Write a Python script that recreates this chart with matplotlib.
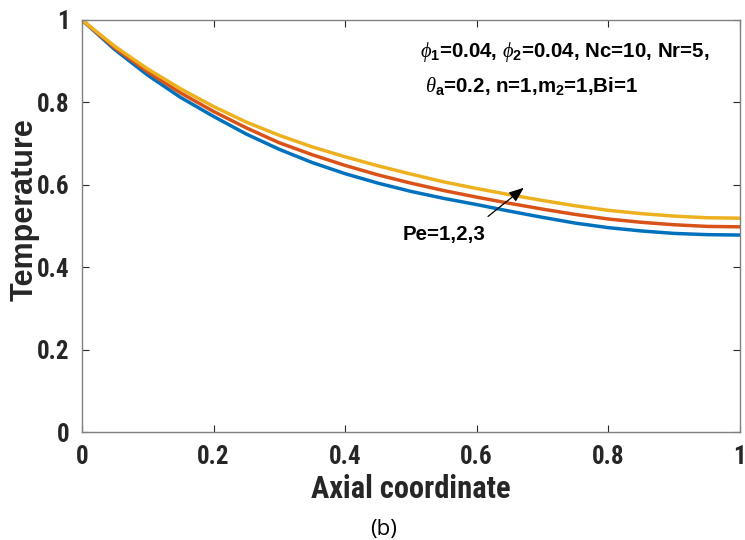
import numpy as np
import matplotlib
matplotlib.use("Agg")
import matplotlib.pyplot as plt
from matplotlib import font_manager

# ---------------------------------------------------------------- data
x = [0.00, 0.05, 0.10, 0.15, 0.20, 0.25, 0.30, 0.35, 0.40, 0.45, 0.50,
     0.55, 0.60, 0.65, 0.70, 0.75, 0.80, 0.85, 0.90, 0.95, 1.00]
pe1 = [1.000, 0.928, 0.866, 0.812, 0.766, 0.723, 0.686, 0.654, 0.627, 0.604, 0.584,
       0.567, 0.552, 0.536, 0.521, 0.507, 0.496, 0.488, 0.482, 0.479, 0.478]
pe2 = [1.000, 0.932, 0.874, 0.823, 0.778, 0.738, 0.702, 0.673, 0.647, 0.624, 0.604,
       0.586, 0.570, 0.555, 0.541, 0.528, 0.517, 0.509, 0.503, 0.499, 0.498]
pe3 = [1.000, 0.936, 0.881, 0.833, 0.790, 0.752, 0.720, 0.692, 0.668, 0.646, 0.626,
       0.607, 0.591, 0.576, 0.562, 0.549, 0.538, 0.530, 0.524, 0.520, 0.519]
ticks = [0, 0.2, 0.4, 0.6, 0.8, 1]
tick_labels = ["0", "0.2", "0.4", "0.6", "0.8", "1"]

# matlab default colour order
colors = ["#0072BD", "#D95319", "#EDB120"]

# ---------------------------------------------------------------- fonts
# the reference uses a condensed bold sans for ticks / xlabel
fonts = font_manager.fontManager.ttflist
names = {f.name for f in fonts}
cond = dict(fontfamily="Liberation Sans", fontstretch="normal")
scale = 0.86
for nm in ["Liberation Sans Narrow", "Roboto Condensed", "Open Sans Condensed"]:
    if nm in names:
        cond = dict(fontfamily=nm, fontstretch="normal")
        scale = 1.0
        break
else:
    for f in fonts:
        if f.name == "DejaVu Sans" and f.stretch in ("condensed", 300, "semi-condensed"):
            cond = dict(fontfamily="DejaVu Sans", fontstretch="condensed")
            scale = 0.95
            break

plt.rcParams["mathtext.fontset"] = "custom"
plt.rcParams["mathtext.rm"] = "Liberation Sans:bold"
plt.rcParams["mathtext.bf"] = "Liberation Sans:bold"
plt.rcParams["mathtext.it"] = "Liberation Serif:italic"

fig = plt.figure(figsize=(7.45, 5.40), dpi=100)
ax = fig.add_axes([0.110, 0.200, 0.883, 0.763])

for yy, c in zip([pe1, pe2, pe3], colors):
    ax.plot(x, yy, color=c, lw=2.5)

ax.set_xlim(0, 1)
ax.set_ylim(0, 1)
ax.set_xticks(ticks)
ax.set_yticks(ticks)
ax.set_xticklabels(tick_labels, fontweight="bold", fontsize=18 * scale, color="#262626", **cond)
ax.set_yticklabels(tick_labels, fontweight="bold", fontsize=18 * scale, color="#262626", **cond)
ax.tick_params(direction="in", length=5, width=0.8, color="#262626",
               top=True, right=True, pad=9)
for s in ax.spines.values():
    s.set_color("#808080")
    s.set_linewidth(1.0)

ax.set_xlabel("Axial coordinate", fontweight="bold", fontsize=22 * scale,
              color="#262626", labelpad=4, **cond)
ax.set_ylabel("Temperature", fontfamily="Liberation Sans", fontweight="bold", fontsize=22,
              color="#262626", labelpad=4)
ax.yaxis.set_label_coords(-0.064, 0.54)

txt = dict(fontfamily="Liberation Sans", fontweight="bold", fontsize=14.8, color="black")
ax.text(0.514, 0.910, r"$\phi_{\mathrm{1}}$=0.04, $\phi_{\mathrm{2}}$=0.04, Nc=10, Nr=5,", **txt)
ax.text(0.521, 0.825, r"$\theta_{\mathrm{a}}$=0.2, n=1,m$_{\mathrm{2}}$=1,Bi=1", **txt)
ax.text(0.488, 0.466, "Pe=1,2,3", **txt)
ax.annotate("", xy=(0.675, 0.597), xytext=(0.614, 0.519),
            arrowprops=dict(arrowstyle="-|>,head_length=0.9,head_width=0.35",
                            color="black", lw=0.9))

fig.text(0.515, 0.010, "(b)", ha="center", fontfamily="Open Sans", fontsize=16, color="black")

fig.savefig("out.png", dpi=100)
